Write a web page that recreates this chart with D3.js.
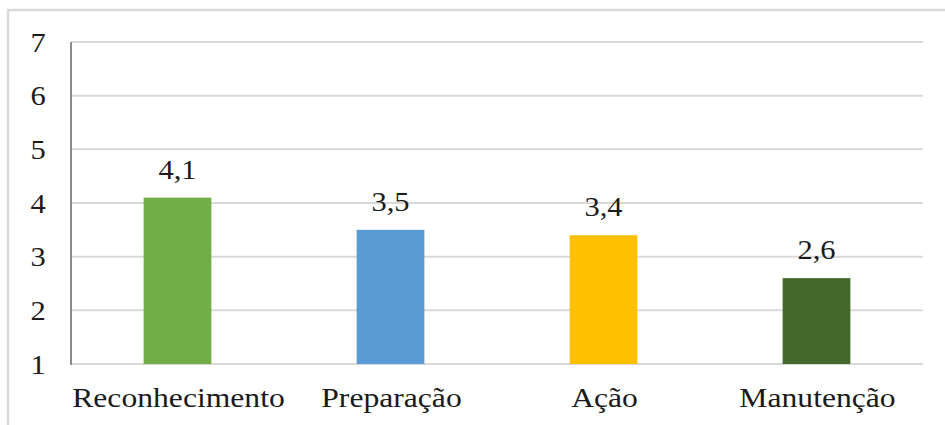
<!DOCTYPE html>
<html>
<head>
<meta charset="utf-8">
<script src="https://cdn.jsdelivr.net/npm/d3@7"></script>
<style>
  html, body { margin: 0; padding: 0; background: #fff; }
  svg text { font-family: "Liberation Serif", "Times New Roman", serif; fill: #1a1a1a; }
</style>
</head>
<body>
<svg id="chart" width="945" height="425"></svg>
<script>
const categories = ["Reconhecimento", "Preparação", "Ação", "Manutenção"];
const values = [4.1, 3.5, 3.4, 2.6];
const valueLabels = ["4,1", "3,5", "3,4", "2,6"];
const colors = ["#70AD47", "#5B9BD5", "#FFC000", "#43682B"];
const yTicks = [1, 2, 3, 4, 5, 6, 7];

const svg = d3.select("#chart");
const W = 945, H = 425;
const m = { left: 71, right: 22, top: 42, bottom: 61 };
const stretch = 1.09;
const catStretch = 1.13;
const FONT = "Liberation Serif";

// outer border
svg.append("rect")
  .attr("x", 8).attr("y", 10)
  .attr("width", W - 8 + 5).attr("height", H - 10 + 5)
  .attr("fill", "none").attr("stroke", "#d9d9d9").attr("stroke-width", 2.5);

const x = d3.scaleBand().domain(categories).range([m.left, W - m.right]).paddingInner(0.682).paddingOuter(0.341);
const y = d3.scaleLinear().domain([1, 7]).range([H - m.bottom, m.top]);

// gridlines
svg.append("g").selectAll("line").data(yTicks).join("line")
  .attr("x1", m.left).attr("x2", W - m.right)
  .attr("y1", d => y(d)).attr("y2", d => y(d))
  .attr("stroke", "#d9d9d9").attr("stroke-width", 2);

// y tick labels
svg.append("g").selectAll("g").data(yTicks).join("g")
  .attr("transform", d => `translate(38,${y(d) + 9.5})`)
  .append("text")
  .attr("transform", `scale(${stretch},1)`)
  .attr("text-anchor", "middle")
  .attr("font-family", FONT)
  .attr("font-size", 28)
  .text(d => d);

// bars
svg.append("g").selectAll("rect").data(values).join("rect")
  .attr("x", (d, i) => x(categories[i]))
  .attr("width", x.bandwidth())
  .attr("y", d => y(d))
  .attr("height", d => y(1) - y(d))
  .attr("fill", (d, i) => colors[i]);

// y axis line
svg.append("line")
  .attr("x1", m.left).attr("x2", m.left)
  .attr("y1", y(7)).attr("y2", y(1) + 1)
  .attr("stroke", "#8c8c8c").attr("stroke-width", 2);

// value labels
svg.append("g").selectAll("g").data(values).join("g")
  .attr("transform", (d, i) => `translate(${x(categories[i]) + x.bandwidth() / 2},${y(d) - 19})`)
  .append("text")
  .attr("transform", `scale(${stretch},1)`)
  .attr("text-anchor", "middle")
  .attr("font-family", FONT)
  .attr("font-size", 28)
  .text((d, i) => valueLabels[i]);

// category labels
svg.append("g").selectAll("g").data(categories).join("g")
  .attr("transform", d => `translate(${x(d) + x.bandwidth() / 2 + 1},407)`)
  .append("text")
  .attr("transform", `scale(${catStretch},1)`)
  .attr("text-anchor", "middle")
  .attr("font-family", FONT)
  .attr("font-size", 28)
  .text(d => d);
</script>
</body>
</html>
